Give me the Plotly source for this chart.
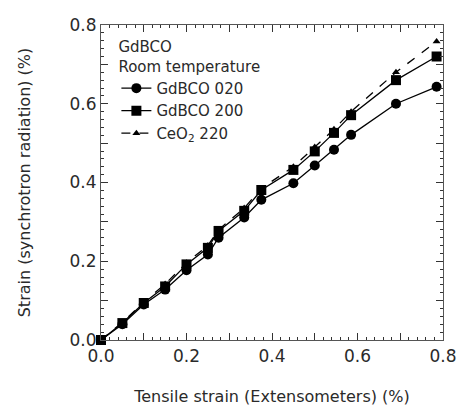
import plotly.graph_objects as go

tensile = [0, 0.05, 0.10, 0.15, 0.20, 0.25, 0.275, 0.335, 0.375, 0.45, 0.50, 0.545, 0.585, 0.69, 0.785]
gdbco_020 = [0, 0.040, 0.090, 0.128, 0.177, 0.217, 0.260, 0.311, 0.356, 0.398, 0.443, 0.483, 0.521, 0.600, 0.643]
gdbco_200 = [0, 0.043, 0.094, 0.136, 0.192, 0.234, 0.277, 0.328, 0.381, 0.432, 0.479, 0.526, 0.571, 0.660, 0.720]
ceo2_220 = [0, 0.045, 0.096, 0.142, 0.196, 0.240, 0.280, 0.335, 0.385, 0.440, 0.490, 0.535, 0.580, 0.680, 0.758]

FONT = "DejaVu Sans"
INK = "#2a2a2a"
AX = "#333"

fig = go.Figure()
fig.add_trace(go.Scatter(x=tensile, y=gdbco_020, mode="lines+markers", name="GdBCO 020",
                         line=dict(color="black", width=1.3), cliponaxis=False,
                         marker=dict(symbol="circle", size=10, color="black")))
fig.add_trace(go.Scatter(x=tensile, y=gdbco_200, mode="lines+markers", name="GdBCO 200",
                         line=dict(color="black", width=1.3), cliponaxis=False,
                         marker=dict(symbol="square", size=10, color="black")))
fig.add_trace(go.Scatter(x=tensile, y=ceo2_220, mode="lines+markers", name="CeO<sub>2</sub> 220",
                         line=dict(color="black", width=1.3, dash="dash"), cliponaxis=False,
                         marker=dict(symbol="triangle-up", size=7, color="black")))

base = dict(range=[0, 0.8], showgrid=False, zeroline=False, showline=True,
            linecolor="#555", linewidth=1.2, ticks="inside", tickwidth=1.2, tickcolor=AX,
            ticklen=7, mirror="allticks", tickmode="array",
            tickvals=[0, 0.1, 0.2, 0.3, 0.4, 0.5, 0.6, 0.7, 0.8],
            ticktext=["0.0", " ", "0.2", " ", "0.4", " ", "0.6", " ", "0.8"],
            minor=dict(ticks="inside", ticklen=3, tickwidth=1, tickcolor=AX,
                       tickmode="linear", tick0=0, dtick=0.02, showgrid=False),
            tickfont=dict(family=FONT, size=17, color=INK))

fig.update_xaxes(**base, title=dict(text="Tensile strain (Extensometers) (%)",
                                    font=dict(family=FONT, size=16, color=INK), standoff=26))
fig.update_yaxes(**base, title=dict(text="Strain (synchrotron radiation) (%)",
                                    font=dict(family=FONT, size=16, color=INK), standoff=34))

fig.update_layout(
    template="simple_white",
    width=460, height=410,
    margin=dict(l=101, r=17, t=25, b=70, autoexpand=False),
    paper_bgcolor="white", plot_bgcolor="white",
    font=dict(family=FONT, color=INK),
    legend=dict(x=0.045, y=0.975, xanchor="left", yanchor="top",
                bgcolor="rgba(0,0,0,0)", borderwidth=0,
                font=dict(family=FONT, size=15, color=INK),
                title=dict(text="GdBCO<br>Room temperature", side="top",
                           font=dict(family=FONT, size=15, color=INK)),
                tracegroupgap=0),
    showlegend=True,
)

fig.write_html("out.html")
